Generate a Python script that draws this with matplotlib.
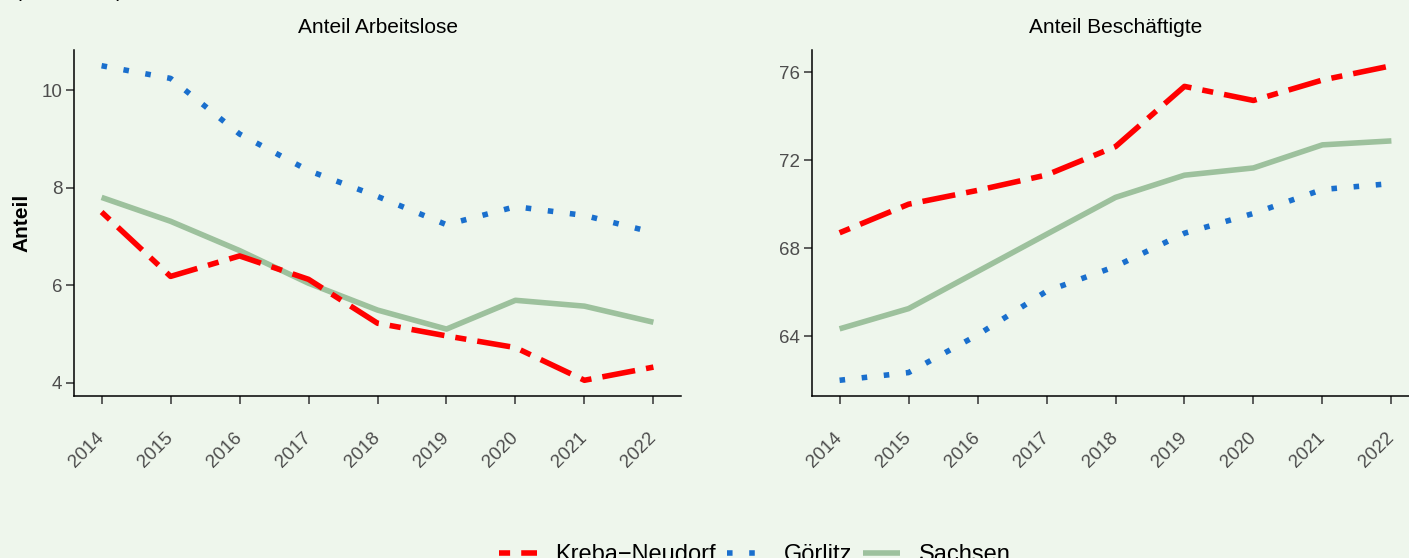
import matplotlib

matplotlib.use("Agg")
import matplotlib.pyplot as plt

plt.rcParams["font.family"] = ["Liberation Sans", "DejaVu Sans"]

BG = "#EEF6EC"

years = [2014, 2015, 2016, 2017, 2018, 2019, 2020, 2021, 2022]
series_names = ["Kreba\u2212Neudorf", "Görlitz", "Sachsen"]

# Anteil Arbeitslose
arbeitslose_kreba = [7.50, 6.18, 6.60, 6.12, 5.22, 4.96, 4.72, 4.05, 4.32]
arbeitslose_goerlitz = [10.50, 10.24, 9.10, 8.35, 7.82, 7.24, 7.61, 7.43, 7.08]
arbeitslose_sachsen = [7.80, 7.31, 6.71, 6.04, 5.49, 5.10, 5.69, 5.57, 5.24]

# Anteil Beschäftigte
beschaeftigte_kreba = [68.70, 70.00, 70.63, 71.33, 72.62, 75.36, 74.72, 75.65, 76.30]
beschaeftigte_goerlitz = [61.99, 62.34, 64.05, 66.04, 67.17, 68.68, 69.58, 70.67, 70.94]
beschaeftigte_sachsen = [64.33, 65.25, 66.94, 68.63, 70.31, 71.32, 71.65, 72.70, 72.88]

left_yticks = [4, 6, 8, 10]
right_yticks = [64, 68, 72, 76]

colors = {"Kreba\u2212Neudorf": "#FF0000", "Görlitz": "#1A6FCD", "Sachsen": "#9DC19D"}
LW = 4.0


def draw_panel(ax, kreba, goerlitz, sachsen, title, yticks):
    ax.set_facecolor(BG)
    ax.plot(years, sachsen, color=colors["Sachsen"], lw=LW, solid_capstyle="butt",
            label="Sachsen")
    ax.plot(years, goerlitz, color=colors["Görlitz"], lw=LW, dashes=(1, 3),
            label="Görlitz")
    ax.plot(years, kreba, color=colors["Kreba\u2212Neudorf"], lw=LW, dashes=(2, 2, 6, 2),
            label="Kreba\u2212Neudorf")
    ax.margins(0.05)
    ax.set_xticks(years)
    ax.set_yticks(yticks)
    ax.set_title(title, fontsize=15, pad=12)
    for side in ("top", "right"):
        ax.spines[side].set_visible(False)
    for side in ("left", "bottom"):
        ax.spines[side].set_color("black")
        ax.spines[side].set_linewidth(1.1)
    ax.tick_params(axis="both", length=5.5, width=1.1, color="#333333",
                   labelcolor="#4D4D4D", labelsize=13.5)
    ax.tick_params(axis="y", pad=3)
    ax.tick_params(axis="x", pad=23)
    for lab in ax.get_xticklabels():
        lab.set_rotation(45)
        lab.set_rotation_mode("anchor")
        lab.set_ha("right")
        lab.set_va("center")


fig = plt.figure(figsize=(14.09, 5.58), dpi=100, facecolor=BG)
ax1 = fig.add_axes([74 / 1409, 162 / 558, 607 / 1409, 346 / 558])
ax2 = fig.add_axes([812 / 1409, 162 / 558, 607 / 1409, 346 / 558])

draw_panel(ax1, arbeitslose_kreba, arbeitslose_goerlitz, arbeitslose_sachsen,
           "Anteil Arbeitslose", left_yticks)
draw_panel(ax2, beschaeftigte_kreba, beschaeftigte_goerlitz, beschaeftigte_sachsen,
           "Anteil Beschäftigte", right_yticks)

ax1.set_ylabel("Anteil", fontsize=15, fontweight="bold", labelpad=7)

fig.text(15 / 1409, 1 + 3 / 558, "(in Prozent)", fontsize=15, ha="left", va="baseline")

handles, labels = ax1.get_legend_handles_labels()
order = [labels.index(n) for n in series_names]
fig.legend([handles[i] for i in order], [labels[i] for i in order],
           loc="center", bbox_to_anchor=(755 / 1409, 3 / 558), ncol=3, frameon=False,
           fontsize=17, handlelength=1.6, handletextpad=0.8, columnspacing=0.45)

fig.savefig("out.png", dpi=100, facecolor=BG)
